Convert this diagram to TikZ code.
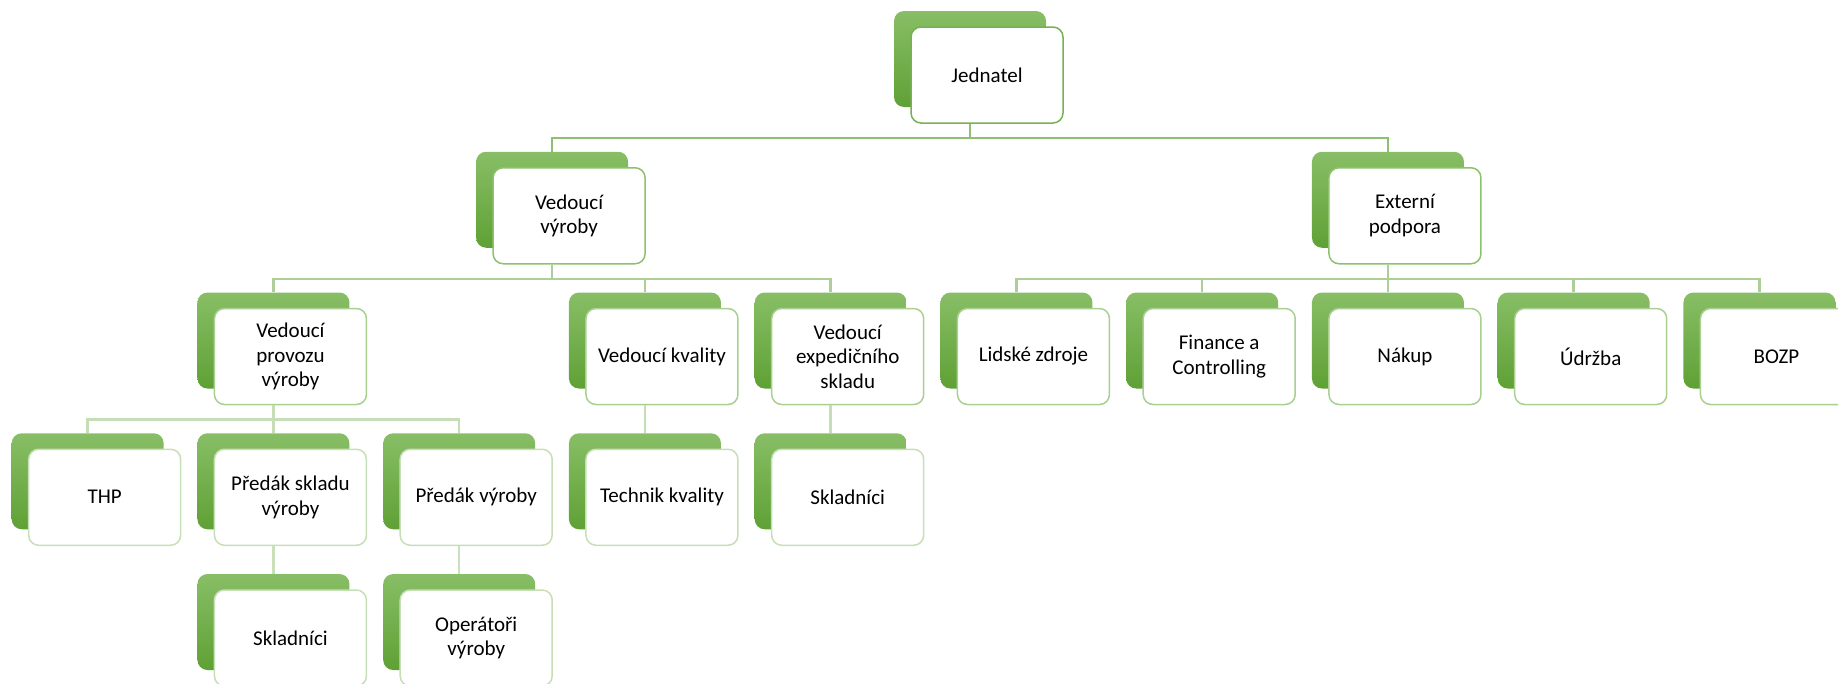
\documentclass[tikz,border=0pt]{standalone}
\usepackage{fontspec}
\setmainfont{Carlito}
\definecolor{gtop}{HTML}{88BE66}
\definecolor{gbot}{HTML}{5FA135}
\definecolor{bordA}{HTML}{78B055}
\definecolor{bordB}{HTML}{8EC16E}
\definecolor{bordC}{HTML}{A9CF91}
\definecolor{bordD}{HTML}{C6DFB6}
\definecolor{connA}{HTML}{8DC070}
\definecolor{connB}{HTML}{ABCF96}
\definecolor{connC}{HTML}{C5DEB5}
\definecolor{connD}{HTML}{C9E0BA}
\newcommand{\orgbox}[5]{%
  \node[backbox] (#1b) at (#2, #3+48) {};
  \node[frontbox, draw=#4] (#1) at (#2+17, #3+64) {#5};
}
\begin{document}
\begin{tikzpicture}[x=1pt,y=-1pt,
  backbox/.style={rectangle, rounded corners=10pt, minimum width=152pt, minimum height=96pt, inner sep=0pt, top color=gtop, bottom color=gbot, draw=none},
  frontbox/.style={rectangle, rounded corners=10pt, minimum width=152pt, minimum height=96pt, inner sep=0pt, fill=white, line width=1.5pt, align=center, font=\fontsize{21}{24.5}\selectfont, text=black},
  conn/.style={line width=2.5pt}]
\useasboundingbox (0,0) rectangle (1838,683);
% level 1
\orgbox{J}{970}{11}{bordA}{Jednatel}
% level 2
\orgbox{VV}{552.1}{151.75}{bordB}{Vedoucí\\výroby}
\orgbox{EP}{1387.95}{151.75}{bordB}{Externí\\podpora}
% level 3
\orgbox{VP}{273.45}{292.5}{bordC}{Vedoucí\\provozu\\výroby}
\orgbox{VK}{644.95}{292.5}{bordC}{Vedoucí kvality}
\orgbox{VE}{830.7}{292.5}{bordC}{Vedoucí\\expedičního\\skladu}
\orgbox{LZ}{1016.45}{292.5}{bordC}{Lidské zdroje}
\orgbox{FC}{1202.2}{292.5}{bordC}{Finance a\\Controlling}
\orgbox{NK}{1387.95}{292.5}{bordC}{Nákup}
\orgbox{UD}{1573.7}{292.5}{bordC}{Údržba}
\orgbox{BZ}{1759.45}{292.5}{bordC}{BOZP}
% level 4
\orgbox{THP}{87.7}{433.25}{bordD}{THP}
\orgbox{PS}{273.45}{433.25}{bordD}{Předák skladu\\výroby}
\orgbox{PV}{459.2}{433.25}{bordD}{Předák výroby}
\orgbox{TK}{644.95}{433.25}{bordD}{Technik kvality}
\orgbox{SK}{830.7}{433.25}{bordD}{Skladníci}
% level 5
\orgbox{SL}{273.45}{574}{bordD}{Skladníci}
\orgbox{OV}{459.2}{574}{bordD}{Operátoři\\výroby}
% connectors
\foreach \c in {VV,EP}
  \draw[conn, connA] (Jb.center |- J.south) -- ++(0,14.4) -| (\c b.north);
\foreach \c in {VP,VK,VE}
  \draw[conn, connB] (VVb.center |- VV.south) -- ++(0,14.4) -| (\c b.north);
\foreach \c in {LZ,FC,NK,UD,BZ}
  \draw[conn, connB] (EPb.center |- EP.south) -- ++(0,14.4) -| (\c b.north);
\foreach \c in {THP,PS,PV}
  \draw[conn, connC] (VPb.center |- VP.south) -- ++(0,14.4) -| (\c b.north);
\draw[conn, connC] (VKb.center |- VK.south) -- (TKb.north);
\draw[conn, connC] (VEb.center |- VE.south) -- (SKb.north);
\draw[conn, connD] (PSb.center |- PS.south) -- (SLb.north);
\draw[conn, connD] (PVb.center |- PV.south) -- (OVb.north);
\end{tikzpicture}
\end{document}
